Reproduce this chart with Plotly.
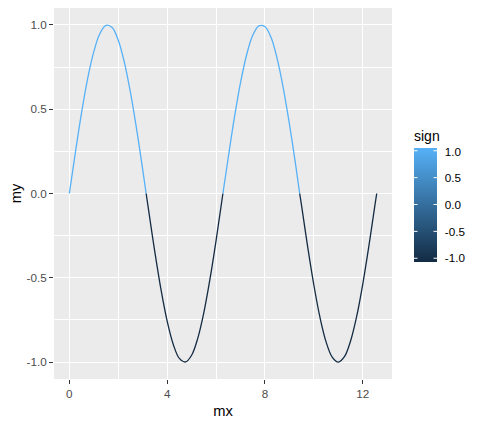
import plotly.graph_objects as go

# 数据：正弦曲线点
mx = [0, 0.25, 0.5, 0.75, 1.0, 1.25, 1.5, 1.75, 2.0, 2.25, 2.5, 2.75, 3.0, 3.14,
      3.25, 3.5, 3.75, 4.0, 4.25, 4.5, 4.75, 5.0, 5.25, 5.5, 5.75, 6.0, 6.28,
      6.5, 6.75, 7.0, 7.25, 7.5, 7.75, 8.0, 8.25, 8.5, 8.75, 9.0, 9.25, 9.42,
      9.5, 9.75, 10.0, 10.25, 10.5, 10.75, 11.0, 11.25, 11.5, 11.75, 12.0,
      12.25, 12.5, 12.57]
my = [0, 0.247, 0.479, 0.682, 0.841, 0.949, 0.997, 0.984, 0.909, 0.778, 0.598,
      0.382, 0.141, 0.0, -0.108, -0.351, -0.572, -0.757, -0.895, -0.978, -0.999,
      -0.959, -0.859, -0.706, -0.508, -0.279, 0.0, 0.215, 0.451, 0.657, 0.823,
      0.938, 0.994, 0.989, 0.925, 0.798, 0.624, 0.412, 0.174, 0.0, -0.075,
      -0.320, -0.544, -0.735, -0.880, -0.970, -1.000, -0.968, -0.875, -0.729,
      -0.537, -0.311, -0.066, 0.0]

x_ticks = [0, 4, 8, 12]
x_ticktext = ["0", "4", "8", "12"]
y_ticks = [-1.0, -0.5, 0.0, 0.5, 1.0]
y_ticktext = ["-1.0", "-0.5", "0.0", "0.5", "1.0"]
sign_ticks = [-1.0, -0.5, 0.0, 0.5, 1.0]
sign_ticktext = ["-1.0", "-0.5", "0.0", "0.5", "1.0"]

LOW = "#132B43"
HIGH = "#56B1F7"
FONT = "Liberation Sans, Arial, sans-serif"

# 页面 body 自带 8px 边距，图整体缩小 8px 来抵消
W, H = 472, 416
L, T, B = 46, 0, 45
PW, PH = 338, 371          # 绘图区像素尺寸
R = W - L - PW


def px_x(x):               # 页面像素 -> paper x
    return (x - 8 - L) / PW


def px_y(y):               # 页面像素 -> paper y
    return (T + PH - (y - 8)) / PH


fig = go.Figure()

# 按符号把曲线切成几段，每段一种颜色
runs = []
for i in range(len(mx) - 1):
    s = 1 if (my[i] + my[i + 1]) >= 0 else -1
    if runs and runs[-1][0] == s:
        runs[-1][1].append(i + 1)
    else:
        runs.append([s, [i, i + 1]])

for s, idx in runs:
    fig.add_trace(go.Scatter(
        x=[mx[k] for k in idx],
        y=[my[k] for k in idx],
        mode="lines",
        line=dict(color=HIGH if s > 0 else LOW, width=1.3, shape="spline"),
        showlegend=False,
        hoverinfo="skip",
    ))

# 颜色条（占位 trace），色条区域 y 147..262，标题在其上方
bar_left, bar_w = 414, 23
bar_top, bar_bot = 147, 262
fig.add_trace(go.Scatter(
    x=[mx[0]], y=[my[0]],
    mode="markers",
    marker=dict(
        size=0.1, opacity=0,
        color=[0], colorscale=[[0, LOW], [1, HIGH]],
        cmin=-1.07, cmax=1.07, showscale=True,
        colorbar=dict(
            title=dict(text="sign", side="top", font=dict(size=14, color="black", family=FONT)),
            x=px_x(bar_left), xanchor="left", xpad=0,
            y=px_y((bar_top - 20 + bar_bot) / 2), yanchor="middle", ypad=0,
            lenmode="pixels", len=bar_bot - bar_top + 20, thickness=bar_w,
            outlinewidth=0,
            tickmode="array", tickvals=sign_ticks, ticktext=sign_ticktext,
            ticks="outside", ticklen=6, tickcolor="rgba(0,0,0,0)", tickwidth=1,
            tickfont=dict(size=11.7, color="black", family=FONT),
        ),
    ),
    showlegend=False,
    hoverinfo="skip",
))

# 颜色条两侧的白色刻度（用无文字的箭头注释画，才能盖在色条上面）
for v in sign_ticks:
    yp = px_y(bar_bot - (v + 1.07) / 2.14 * (bar_bot - bar_top))
    for xs, ax in [(bar_left, 5), (bar_left + bar_w, -5)]:
        fig.add_annotation(
            x=px_x(xs), y=yp, xref="paper", yref="paper",
            text="", showarrow=True, arrowhead=0, arrowwidth=1,
            arrowcolor="white", ax=ax, ay=0, standoff=0, startstandoff=0,
        )

axis_common = dict(
    showgrid=True, gridcolor="white", gridwidth=1.1,
    zeroline=False, showline=False,
    ticks="outside", ticklen=4, tickcolor="#333333", tickwidth=1,
    tickfont=dict(size=11.7, color="#4D4D4D", family=FONT),
)

fig.update_layout(
    width=W, height=H,
    margin=dict(l=L, r=R, t=T, b=B, autoexpand=False),
    paper_bgcolor="white",
    plot_bgcolor="#EBEBEB",
    font=dict(family=FONT),
    xaxis=dict(
        range=[-0.628, 13.195],
        tickmode="array", tickvals=x_ticks, ticktext=x_ticktext,
        minor=dict(tickmode="linear", tick0=2, dtick=4, showgrid=True,
                   gridcolor="white", gridwidth=0.5, ticks=""),
        title=dict(text="mx", font=dict(size=14.7, color="black"), standoff=6),
        **axis_common,
    ),
    yaxis=dict(
        range=[-1.1, 1.1],
        tickmode="array", tickvals=y_ticks, ticktext=y_ticktext,
        minor=dict(tickmode="linear", tick0=-0.75, dtick=0.5, showgrid=True,
                   gridcolor="white", gridwidth=0.5, ticks=""),
        title=dict(text="my", font=dict(size=14.7, color="black"), standoff=6),
        **axis_common,
    ),
)

fig.write_html("out.html")
